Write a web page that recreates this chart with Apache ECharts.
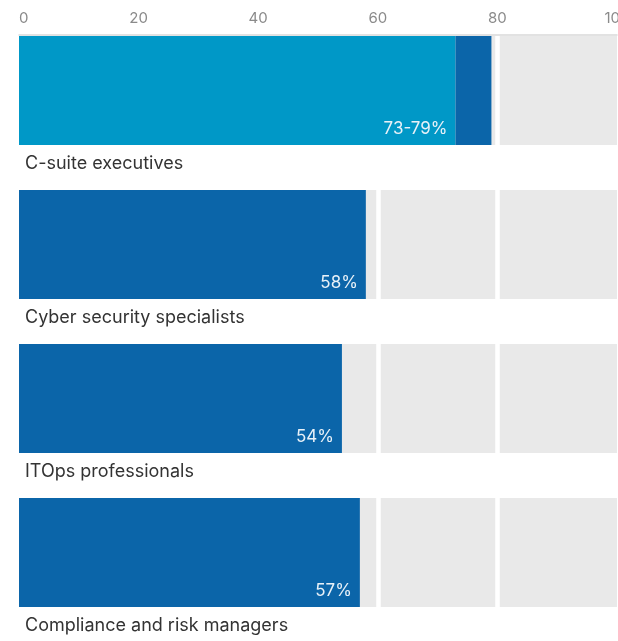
<!DOCTYPE html>
<html>
<head>
<meta charset="utf-8">
<script src="https://cdn.jsdelivr.net/npm/echarts@6/dist/echarts.min.js"></script>
<style>
  html, body { margin: 0; padding: 0; background: #fff; }
  #chart { width: 618px; height: 641px; }
</style>
</head>
<body>
<div id="chart"></div>
<script>
// Share of each role (percent); the first row is a range (low to high)
const categories = ['C-suite executives', 'Cyber security specialists', 'ITOps professionals', 'Compliance and risk managers'];
const lowValues = [73, 58, 54, 57];
const highValues = [79, null, null, null];
const valueLabels = ['73-79%', '58%', '54%', '57%'];
const xTicks = [0, 20, 40, 60, 80, 100];

const LIGHT_BLUE = '#0098c7';
const DARK_BLUE = '#0b65a9';
const TRACK = '#e9e9e9';
const FONT = 'Inter, "Noto Sans", sans-serif';

const chart = echarts.init(document.getElementById('chart'), null, { renderer: 'canvas' });

const fullData = categories.map(() => xTicks[xTicks.length - 1]);
const baseData = lowValues.map((v, i) => ({
  value: v,
  itemStyle: { color: highValues[i] != null ? LIGHT_BLUE : DARK_BLUE }
}));
const rangeData = highValues.map((h, i) => (h != null ? h - lowValues[i] : null));

chart.setOption({
  animation: false,
  grid: {
    left: 19, right: 1, top: 13.5, bottom: 11.5,
    containLabel: false,
    outerBoundsMode: 'none'
  },
  xAxis: {
    type: 'value',
    position: 'top',
    offset: -21,
    min: xTicks[0],
    max: xTicks[xTicks.length - 1],
    interval: 20,
    axisLine: { show: true, lineStyle: { color: '#d9d9d9', width: 1.5 } },
    axisTick: { show: false },
    axisLabel: {
      color: '#8a8a8a',
      fontFamily: FONT,
      fontSize: 15,
      margin: 9,
      alignMinLabel: 'left'
    },
    splitLine: {
      show: true,
      showMinLine: false,
      showMaxLine: false,
      lineStyle: { color: '#ffffff', width: 4.5 }
    },
    z: 0
  },
  yAxis: {
    type: 'category',
    data: categories,
    inverse: true,
    show: false
  },
  series: [
    {
      // grey track behind each bar, under the white split lines
      name: 'track',
      type: 'bar',
      data: fullData,
      barWidth: 109,
      barGap: '-100%',
      silent: true,
      z: -1,
      itemStyle: { color: TRACK }
    },
    {
      name: 'base',
      type: 'bar',
      stack: 'share',
      data: baseData,
      barWidth: 109,
      barGap: '-100%',
      z: 2,
      label: {
        show: true,
        position: 'insideBottomRight',
        distance: 8,
        formatter: (p) => valueLabels[p.dataIndex],
        color: '#e8f1f8',
        fontFamily: FONT,
        fontSize: 17
      }
    },
    {
      name: 'range',
      type: 'bar',
      stack: 'share',
      data: rangeData,
      barWidth: 109,
      barGap: '-100%',
      z: 2,
      itemStyle: { color: DARK_BLUE }
    },
    {
      // transparent carrier for the category names under each bar
      name: 'names',
      type: 'bar',
      data: fullData,
      barWidth: 109,
      barGap: '-100%',
      silent: true,
      z: 3,
      itemStyle: { color: 'rgba(0,0,0,0)' },
      label: {
        show: true,
        position: [6, '100%'],
        offset: [0, 10],
        formatter: (p) => categories[p.dataIndex],
        color: '#333333',
        fontFamily: FONT,
        fontSize: 18
      }
    }
  ]
});
</script>
</body>
</html>
